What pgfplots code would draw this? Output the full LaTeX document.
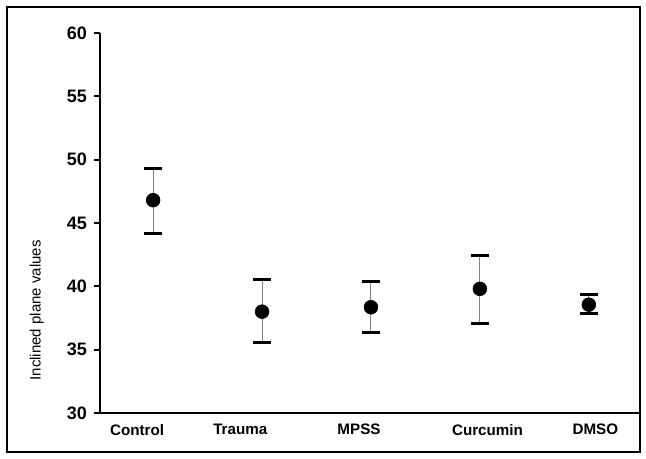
\documentclass[border=0pt]{standalone}
\usepackage{fontspec}
\setmainfont{Liberation Sans}
\usepackage{pgfplots}
\pgfplotsset{compat=1.18}
\begin{document}
\begin{tikzpicture}[x=1pt,y=1pt]
\path (-50pt,-23pt) rectangle (273pt,206.5pt);
\draw[line width=0.8pt] (-46.5pt,-19.5pt) rectangle (270pt,203pt);
\begin{axis}[
  at={(0pt,0pt)}, anchor=south west,
  scale only axis, width=270pt, height=190pt,
  xmin=-0.488, xmax=4.47, ymin=30, ymax=60,
  axis lines=left, axis line style={-, line width=1.4pt},
  ytick={30,35,...,60},
  yticklabel style={font=\bfseries\fontsize{9}{10}\selectfont},
  /pgf/number format/assume math mode=true,
  ytick style={line width=1pt, black},
  tick align=outside, major tick length=3pt,
  xtick={-0.147,0.80,1.89,3.07,4.06},
  xticklabels={Control,Trauma,MPSS,Curcumin,DMSO},
  xtick style={draw=none},
  xticklabel style={font=\bfseries\fontsize{7.6}{9}\selectfont, yshift=1pt},
  ylabel={Inclined plane values},
  ylabel style={font=\fontsize{7.5}{9}\selectfont, at={(axis description cs:-0.117,0.27)}, anchor=center},
  clip=false,
]
\addplot[only marks, mark=*, mark size=3.4pt, black,
  error bars/.cd, y dir=both, y explicit,
  error bar style={gray, line width=0.5pt},
  error mark options={rotate=90, mark size=4.6pt, line width=1.5pt, black}]
  table[x=x, y=y, y error plus=ep, y error minus=em] {
x y ep em
0 46.8 2.5 2.6
1 38.0 2.5 2.45
2 38.35 2.05 2.0
3 39.8 2.6 2.75
4 38.55 0.77 0.68
};
\end{axis}
\end{tikzpicture}
\end{document}
